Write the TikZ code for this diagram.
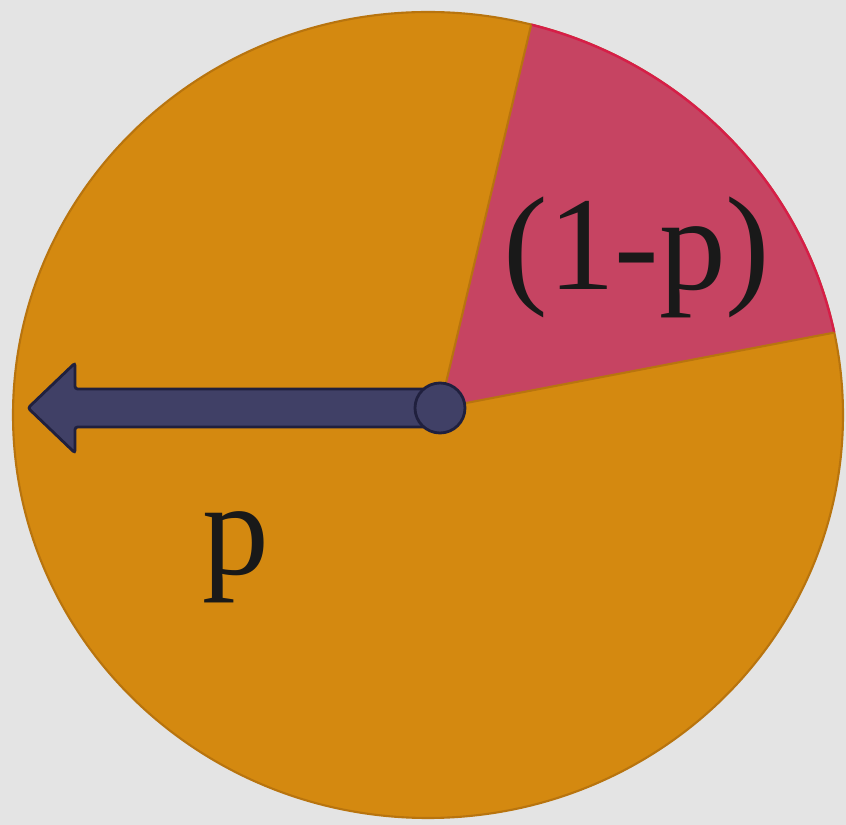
\documentclass[tikz,border=0pt]{standalone}
\usepackage{fontspec}
\setmainfont{Liberation Serif}
\usetikzlibrary{calc}

\definecolor{bggray}{RGB}{228,228,228}
\definecolor{spinorange}{RGB}{212,137,16}
\definecolor{spinrim}{RGB}{184,116,14}
\definecolor{spinpink}{RGB}{198,68,98}
\definecolor{pinkrim}{RGB}{214,30,72}
\definecolor{arrownavy}{RGB}{64,64,102}
\definecolor{arrowrim}{RGB}{32,32,62}

\begin{document}
\begin{tikzpicture}[
    x=0.02cm, y=0.02cm,
    disc/.style   ={fill=spinorange, draw=spinrim, line width=1.2pt},
    slice/.style  ={fill=spinpink, draw=none},
    rim/.style    ={draw=pinkrim, line width=1.4pt},
    edge/.style   ={draw=spinrim, line width=1.2pt},
    pointer/.style={fill=arrownavy, draw=arrowrim, line width=1.6pt,
                    rounded corners=1.5pt},
    lbl/.style    ={font=\fontsize{76}{76}\selectfont, text=black!90,
                    anchor=base, inner sep=0pt},
]
\useasboundingbox (0,0) rectangle (846,825);
\fill[bggray] (0,0) rectangle (846,825);

% ----------------------------------------------------------------------
%  spinner disc with the (1-p) slice
% ----------------------------------------------------------------------
\coordinate (centre) at (428,410);
\coordinate (pivot)  at (440,417);
\filldraw[disc] (centre) ellipse [x radius=415, y radius=403];

\coordinate (slicetop)   at ($(centre)+({415*cos(75.6)},{403*sin(75.6)})$);
\coordinate (sliceright) at ($(centre)+({415*cos(11.8)},{403*sin(11.8)})$);
\fill[slice] (pivot) -- (slicetop)
      arc[start angle=75.6, end angle=11.8, x radius=415, y radius=403]
      -- cycle;
\draw[rim] (slicetop)
      arc[start angle=75.6, end angle=11.8, x radius=415, y radius=403];
\draw[edge] (pivot) -- (slicetop);
\draw[edge] (pivot) -- (sliceright);

% ----------------------------------------------------------------------
%  pointer
% ----------------------------------------------------------------------
\filldraw[pointer] (pivot) ++(0,19) -- (75,436) -- (75,462) -- (28,417)
      -- (75,372) -- (75,398) -- ($(pivot)+(0,-19)$) -- cycle;
\filldraw[arrownavy, draw=arrowrim, line width=1.6pt] (pivot) circle (25);

% ----------------------------------------------------------------------
%  labels
% ----------------------------------------------------------------------
\node[lbl] (qlabel) at (637,535) {(1-p)};
\node[lbl] (plabel) at (236,250) {p};

\end{tikzpicture}
\end{document}
